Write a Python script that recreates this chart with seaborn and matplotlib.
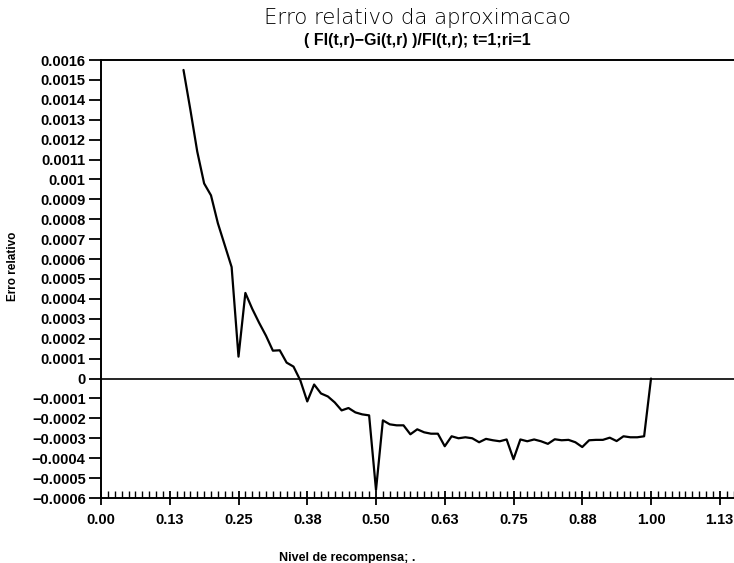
import numpy as np
import pandas as pd
import matplotlib
matplotlib.use("Agg")
import matplotlib.pyplot as plt
import seaborn as sns
from matplotlib.ticker import MultipleLocator, FixedLocator

# --- data -------------------------------------------------------------
x_start = 0.15
x_step = 0.0125
rel_err = [  # in units of 1e-4
    15.5, 13.5, 11.4, 9.8, 9.2, 7.8, 6.7, 5.6, 1.1, 4.3,
    3.5, 2.8, 2.15, 1.4, 1.42, 0.8, 0.6, -0.1, -1.15, -0.3,
    -0.75, -0.9, -1.2, -1.6, -1.48, -1.7, -1.8, -1.85, -5.6, -2.1,
    -2.3, -2.35, -2.35, -2.8, -2.55, -2.7, -2.77, -2.77, -3.4, -2.9,
    -3.0, -2.95, -3.0, -3.2, -3.03, -3.1, -3.15, -3.06, -4.05, -3.06,
    -3.15, -3.06, -3.15, -3.28, -3.05, -3.1, -3.08, -3.2, -3.44, -3.1,
    -3.08, -3.08, -2.97, -3.14, -2.9, -2.95, -2.95, -2.9, 0.0,
]
x_ticks = [0.0, 0.125, 0.25, 0.375, 0.5, 0.625, 0.75, 0.875, 1.0, 1.125]
x_tick_labels = ["0.00", "0.13", "0.25", "0.38", "0.50", "0.63", "0.75", "0.88", "1.00", "1.13"]
y_ticks = [-0.0006, -0.0005, -0.0004, -0.0003, -0.0002, -0.0001, 0.0,
           0.0001, 0.0002, 0.0003, 0.0004, 0.0005, 0.0006, 0.0007, 0.0008,
           0.0009, 0.001, 0.0011, 0.0012, 0.0013, 0.0014, 0.0015, 0.0016]
y_tick_labels = ["\u22120.0006", "\u22120.0005", "\u22120.0004", "\u22120.0003",
                 "\u22120.0002", "\u22120.0001", "0",
                 "0.0001", "0.0002", "0.0003", "0.0004", "0.0005", "0.0006",
                 "0.0007", "0.0008", "0.0009", "0.001", "0.0011", "0.0012",
                 "0.0013", "0.0014", "0.0015", "0.0016"]

title = "Erro relativo da aproximacao"
subtitle = "( FI(t,r)\u2212Gi(t,r) )/FI(t,r); t=1;ri=1"
xlabel = "Nivel de recompensa; ."
ylabel = "Erro relativo"

xs = [x_start + i * x_step for i in range(len(rel_err))]
df = pd.DataFrame({"x": xs, "y": [v * 1e-4 for v in rel_err]})

# --- style ------------------------------------------------------------
sns.set_theme(style="white")
plt.rcParams["font.family"] = ["Liberation Sans Narrow", "Liberation Sans", "DejaVu Sans"]

W, H = 734, 563
fig = plt.figure(figsize=(W / 100, H / 100), dpi=100)
left, right, top, bottom = 101, 733.5, 60, 498
ax = fig.add_axes([left / W, 1 - bottom / H, (right - left) / W, (bottom - top) / H])

sns.lineplot(data=df, x="x", y="y", ax=ax, color="black", linewidth=1.6, sort=False)
ax.axhline(0, color="black", linewidth=1.2, zorder=1)

ax.set_xlim(0, (right - left) / 550.0)
ax.set_ylim(-0.0006, 0.0016)

ax.xaxis.set_major_locator(FixedLocator(x_ticks))
ax.set_xticklabels(x_tick_labels)
ax.xaxis.set_minor_locator(MultipleLocator(0.0125))
ax.yaxis.set_major_locator(FixedLocator(y_ticks))
ax.set_yticklabels(y_tick_labels)

ax.tick_params(axis="x", which="major", direction="inout", length=10, width=1.3,
               labelsize=10.5, pad=6, colors="black", bottom=True)
ax.tick_params(axis="x", which="minor", direction="in", length=5, width=1.0,
               colors="black", bottom=True)
ax.tick_params(axis="y", which="major", direction="out", length=9, width=1.3,
               labelsize=10.5, pad=2, colors="black", left=True)
for lab in ax.get_xticklabels() + ax.get_yticklabels():
    lab.set_fontweight("bold")

for s in ["left", "bottom", "top"]:
    ax.spines[s].set_visible(True)
    ax.spines[s].set_color("black")
    ax.spines[s].set_linewidth(1.4)
ax.spines["right"].set_visible(False)

ax.set_xlabel("")
ax.set_ylabel("")

fig.text(418 / W, 1 - 18 / H, title, ha="center", va="center", fontsize=15.3,
         family=["DejaVu Sans"], fontweight="light", color="black")
fig.text(417 / W, 1 - 40 / H, subtitle, ha="center", va="center", fontsize=11.5,
         fontweight="bold", color="black")
fig.text(347 / W, 1 - 558 / H, xlabel, ha="center", va="center", fontsize=9,
         fontweight="bold", color="black")
fig.text(13 / W, 1 - 266 / H, ylabel, ha="center", va="center", fontsize=8.5,
         rotation=90, fontweight="bold", color="black")

fig.savefig("out.png", dpi=100, facecolor="white")
